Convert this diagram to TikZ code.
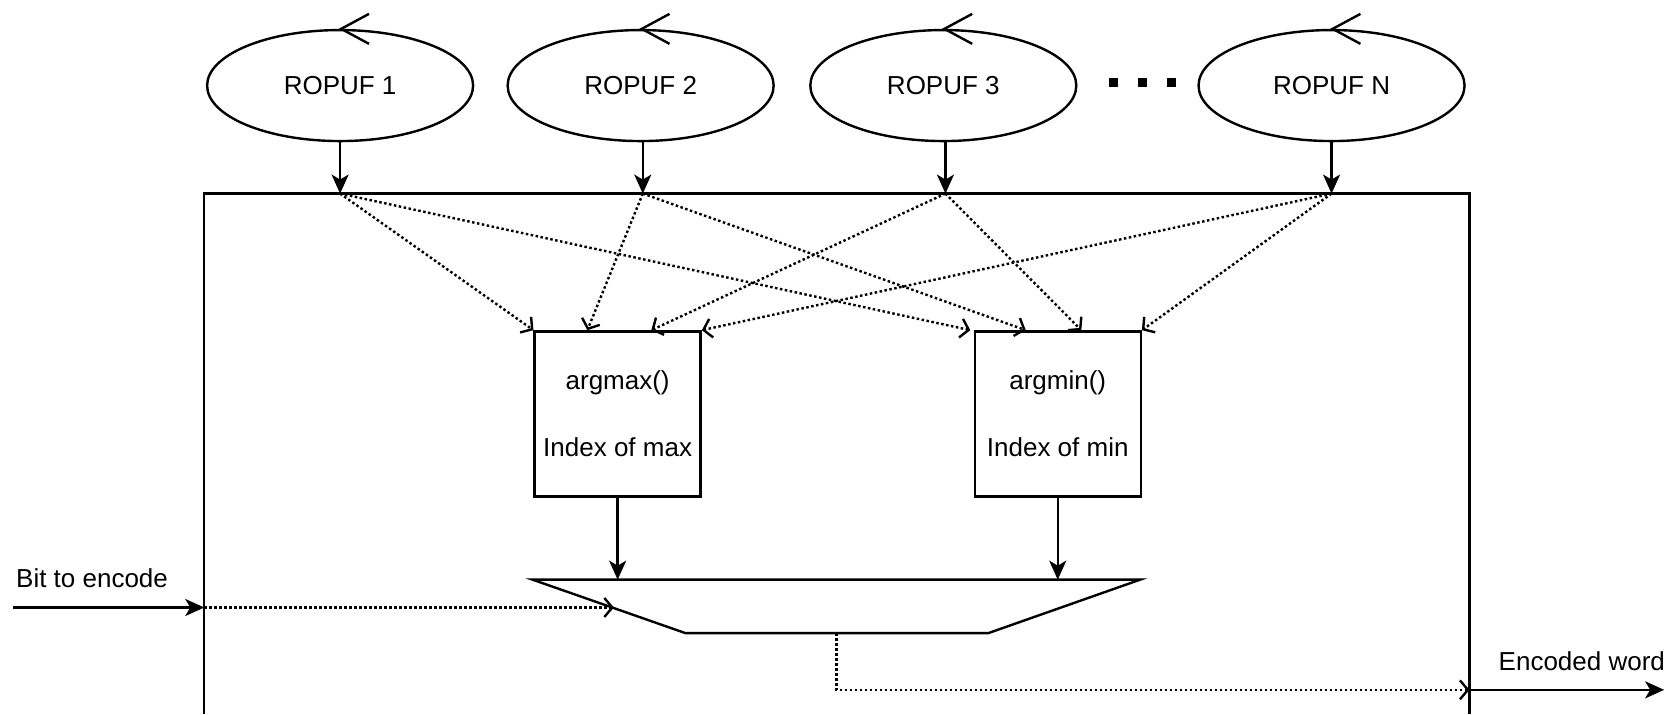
\documentclass[tikz,border=0pt]{standalone}
\usepackage{fontspec}
\setmainfont{Liberation Sans}
\usetikzlibrary{arrows.meta,shapes.geometric,calc}
\begin{document}
\begin{tikzpicture}[x=1.0695pt,y=-1.0695pt,
  line width=2.4pt,
  every node/.style={font=\fontsize{26}{31}\selectfont},
  puf/.style={draw, ellipse, minimum width=266pt, minimum height=111pt, inner sep=0pt},
  fnbox/.style={draw, rectangle, minimum width=166pt, minimum height=165pt, align=center, inner sep=0pt},
  solidarrow/.style={-{Stealth[length=19pt,width=17pt,inset=5pt]}},
  dotarrow/.style={dash pattern=on 2.5pt off 2.5pt, -{Straight Barb[length=8pt,width=19pt]}},
  loopmark/.style={line join=miter},
  dotsq/.style={fill=black, draw=none, minimum size=9pt, inner sep=0pt},
]
\useasboundingbox (0,0) rectangle (1568,668);

% ROPUF ellipses
\node[puf] (p1) at (318,80) {ROPUF 1};
\node[puf] (p2) at (599,80) {ROPUF 2};
\node[puf] (p3) at (882,80) {ROPUF 3};
\node[puf] (pn) at (1245,80) {ROPUF N};
\foreach \p in {p1,p2,p3,pn}{
  \draw[loopmark] ($(\p.north)+(27,-14)$) -- ($(\p.north)+(1,0)$) -- ($(\p.north)+(27,14)$);
}
% dots
\node[dotsq] (d1) at (1041,77) {};
\node[dotsq] (d2) at (1068,77) {};
\node[dotsq] (d3) at (1095,77) {};

% outer box
\coordinate (bl) at (191,668);
\coordinate (br) at (1374,668);
\draw (bl) -- (191,181) -- (1374,181) -- (br);

% entry points on top of the box
\coordinate (t1) at (318,181);
\coordinate (t2) at (601,181);
\coordinate (t3) at (884,181);
\coordinate (t4) at (1245,181);
\draw[solidarrow] (p1.south) -- (t1);
\draw[solidarrow] (p2.south -| t2) -- (t2);
\draw[solidarrow] (p3.south -| t3) -- (t3);
\draw[solidarrow] (pn.south) -- (t4);

% function boxes
\node[fnbox] (amax) at (577.5,387) {argmax()\\[36pt]Index of max};
\node[fnbox] (amin) at (989,387) {argmin()\\[36pt]Index of min};

% dotted connections
\draw[dotarrow] (t1) -- (amax.north west);
\draw[dotarrow] (t1) -- ($(amin.north west)+(-3,0)$);
\draw[dotarrow] (t2) -- ($(amax.north west)!0.32!(amax.north east)$);
\draw[dotarrow] (t2) -- ($(amin.north west)!0.31!(amin.north east)$);
\draw[dotarrow] (t3) -- ($(amax.north west)!0.70!(amax.north east)$);
\draw[dotarrow] (t3) -- ($(amin.north west)!0.64!(amin.north east)$);
\draw[dotarrow] (t4) -- (amax.north east);
\draw[dotarrow] (t4) -- (amin.north east);

% multiplexer (trapezoid)
\coordinate (mtl) at (498,542);
\coordinate (mtr) at (1066,542);
\coordinate (mbr) at (924,592);
\coordinate (mbl) at (641,592);
\draw[line join=miter] (mtl) -- (mtr) -- (mbr) -- (mbl) -- cycle;
\draw[solidarrow] (amax.south) -- (amax.south |- mtl);
\draw[solidarrow] (amin.south) -- (amin.south |- mtr);

% input bit
\node[anchor=west, inner sep=0pt] (bitlbl) at (14,541) {Bit to encode};
\coordinate (bin) at (12,568);
\coordinate (bedge) at (191,568);
\coordinate (min) at (574,568);
\draw[solidarrow] (bin) -- (bedge);
\draw[dotarrow] (bedge) -- (min);

% output
\coordinate (mout) at (782,592);
\coordinate (oedge) at (1374,645);
\coordinate (oend) at (1556,645);
\draw[dotarrow] (mout) -- (mout |- oedge) -- (oedge);
\draw[solidarrow] (oedge) -- (oend);
\node[inner sep=0pt] (outlbl) at (1479,618) {Encoded word};
\end{tikzpicture}
\end{document}
